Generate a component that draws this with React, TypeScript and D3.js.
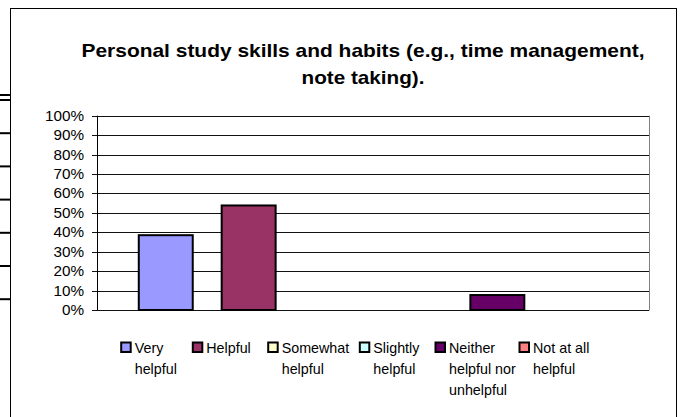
import React from "react";
import * as d3 from "d3";

const seriesNames = ["Very helpful", "Helpful", "Somewhat helpful", "Slightly helpful", "Neither helpful nor unhelpful", "Not at all helpful"];
const seriesLines = [["Very", "helpful"], ["Helpful"], ["Somewhat", "helpful"], ["Slightly", "helpful"], ["Neither", "helpful nor", "unhelpful"], ["Not at all", "helpful"]];
const seriesValues = [0.385, 0.538, 0, 0, 0.077, 0];
const seriesColors = ["#9999FF", "#993366", "#FFFFCC", "#CCFFFF", "#660066", "#FF8080"];
const yTicks = [0, 0.1, 0.2, 0.3, 0.4, 0.5, 0.6, 0.7, 0.8, 0.9, 1];
const titleLines = ["Personal study skills and habits (e.g., time management,", "note taking)."];

// layout
const W = 680, H = 417;
const plot = { left: 97, right: 649, top: 115.7, bottom: 310 };
const legendX = [120.7, 192.3, 267.7, 359.3, 435, 519];
const titleWidths = [563, 123];
const sideTicks = [95, 100, 133.2, 166.4, 199.6, 232.8, 266, 299.2];
const font = "Arial, 'Liberation Sans', sans-serif";

export default function App() {
  const y = d3.scaleLinear().domain([0, 1]).range([plot.bottom, plot.top]);
  const x = d3.scaleBand<string>().domain(seriesNames).range([plot.left, plot.right]).paddingInner(0.349).paddingOuter(0.504);
  const fmt = d3.format(".0%");
  return (
    <svg width={W} height={H} style={{ position: "absolute", left: 0, top: 0, background: "#fff" }}>
      <rect x={0} y={0} width={W} height={H} fill="#fff" />
      {sideTicks.map((t, i) => (
        <rect key={i} x={0} y={t - 1} width={10} height={2} fill="#000" />
      ))}
      <rect x={10.5} y={8.5} width={666} height={420} fill="#fff" stroke="#000" strokeWidth={1} />
      {titleLines.map((t, i) => (
        <text key={i} x={363 - titleWidths[i] / 2} y={56.6 + i * 27.7} textLength={titleWidths[i]} lengthAdjust="spacingAndGlyphs" fontFamily={font} fontWeight="bold" fontSize={17.7} fill="#000">{t}</text>
      ))}
      {yTicks.map((t) => (
        <g key={t}>
          <line x1={plot.left - 5} x2={plot.right} y1={Math.round(y(t)) + 0.5} y2={Math.round(y(t)) + 0.5} stroke="#111" strokeWidth={1} />
          <text transform={`translate(84,${y(t) + 5}) scale(1.07,1)`} textAnchor="end" fontFamily={font} fontSize={14.3} fill="#000">{fmt(t)}</text>
        </g>
      ))}
      <line x1={plot.left + 0.5} x2={plot.left + 0.5} y1={plot.top} y2={plot.bottom + 0.5} stroke="#000" strokeWidth={1} />
      <line x1={plot.right + 0.5} x2={plot.right + 0.5} y1={plot.top} y2={plot.bottom + 0.5} stroke="#808080" strokeWidth={1} />
      {seriesNames.map((s, i) => (
        seriesValues[i] > 0 ? (
          <rect key={s} x={x(s)!} y={y(seriesValues[i])} width={x.bandwidth()} height={y(0) - y(seriesValues[i])} fill={seriesColors[i]} stroke="#000" strokeWidth={2} />
        ) : null
      ))}
      {seriesNames.map((s, i) => (
        <g key={s}>
          <rect x={legendX[i] + 0.5} y={342.5} width={9.5} height={9.5} fill={seriesColors[i]} stroke="#000" strokeWidth={2} />
          {seriesLines[i].map((ln, j) => (
            <text key={j} x={legendX[i] + 14} y={353.3 + j * 21} fontFamily={font} fontSize={14.3} fill="#000">{ln}</text>
          ))}
        </g>
      ))}
    </svg>
  );
}
